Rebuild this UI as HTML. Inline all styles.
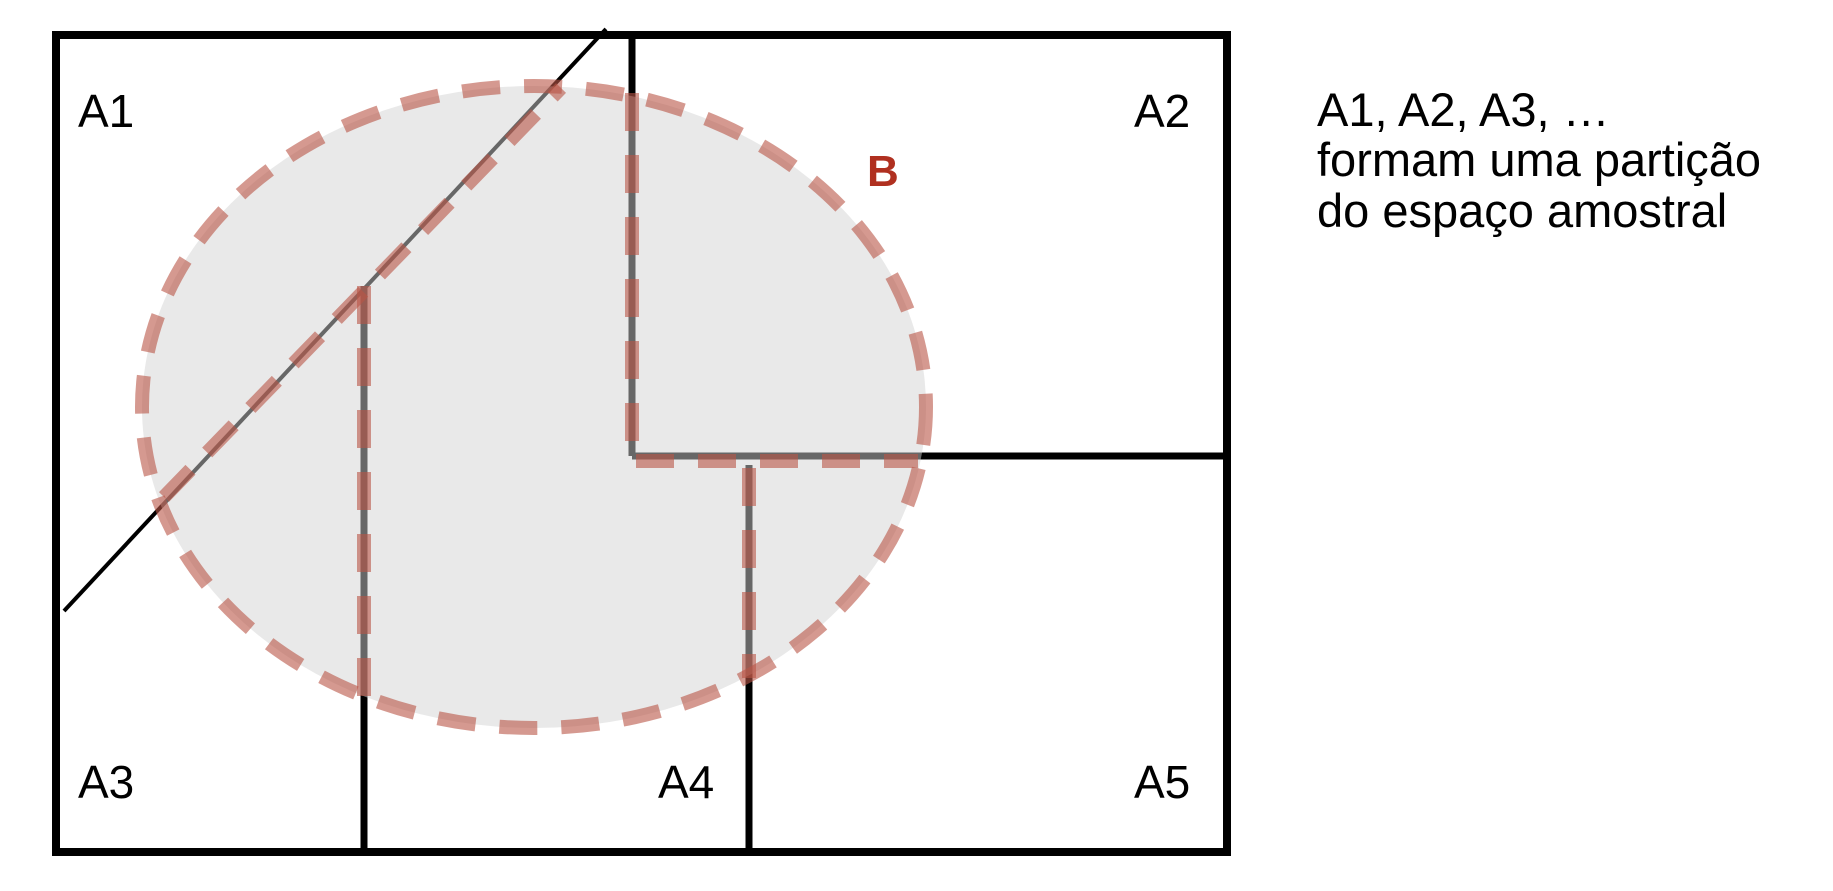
<!DOCTYPE html>
<html><head><meta charset="utf-8"><style>
html,body{margin:0;padding:0;background:#fff;}
svg{display:block;font-family:"Liberation Sans",Arial,sans-serif;}
</style></head><body>
<svg width="1833" height="891" viewBox="0 0 1833 891">
  <g stroke="#000" fill="none">
    <rect x="56" y="35" width="1171" height="817" stroke-width="8"/>
    <line x1="632" y1="35" x2="632" y2="456" stroke-width="7"/>
    <line x1="632" y1="456" x2="1227" y2="456" stroke-width="7"/>
    <line x1="364" y1="286" x2="364" y2="852" stroke-width="7"/>
    <line x1="749" y1="465" x2="749" y2="852" stroke-width="7"/>
    <line x1="64" y1="611" x2="606" y2="29" stroke-width="4"/>
  </g>
  <ellipse cx="534" cy="407" rx="392" ry="321" fill="rgba(210,210,210,0.49)" stroke="rgba(185,85,70,0.6)" stroke-width="14" stroke-dasharray="38 24"/>
  <g stroke="rgba(185,85,70,0.6)" stroke-width="14" stroke-dasharray="38 24" fill="none">
    <line x1="164" y1="497" x2="561" y2="88"/>
    <line x1="364" y1="286" x2="364" y2="707"/>
    <polyline points="632,93 632,461 918,461"/>
    <line x1="749" y1="468" x2="749" y2="678"/>
  </g>
  <g font-size="46" fill="#000">
    <text x="78" y="127">A1</text>
    <text x="1134" y="127">A2</text>
    <text x="78" y="798">A3</text>
    <text x="658" y="798">A4</text>
    <text x="1134" y="798">A5</text>
  </g>
  <text x="867" y="186" font-size="44" font-weight="bold" fill="#b03020">B</text>
  <g font-size="47" fill="#000">
    <text x="1317" y="126">A1, A2, A3, …</text>
    <text x="1317" y="176">formam uma partição</text>
    <text x="1317" y="227">do espaço amostral</text>
  </g>
</svg>
</body></html>
